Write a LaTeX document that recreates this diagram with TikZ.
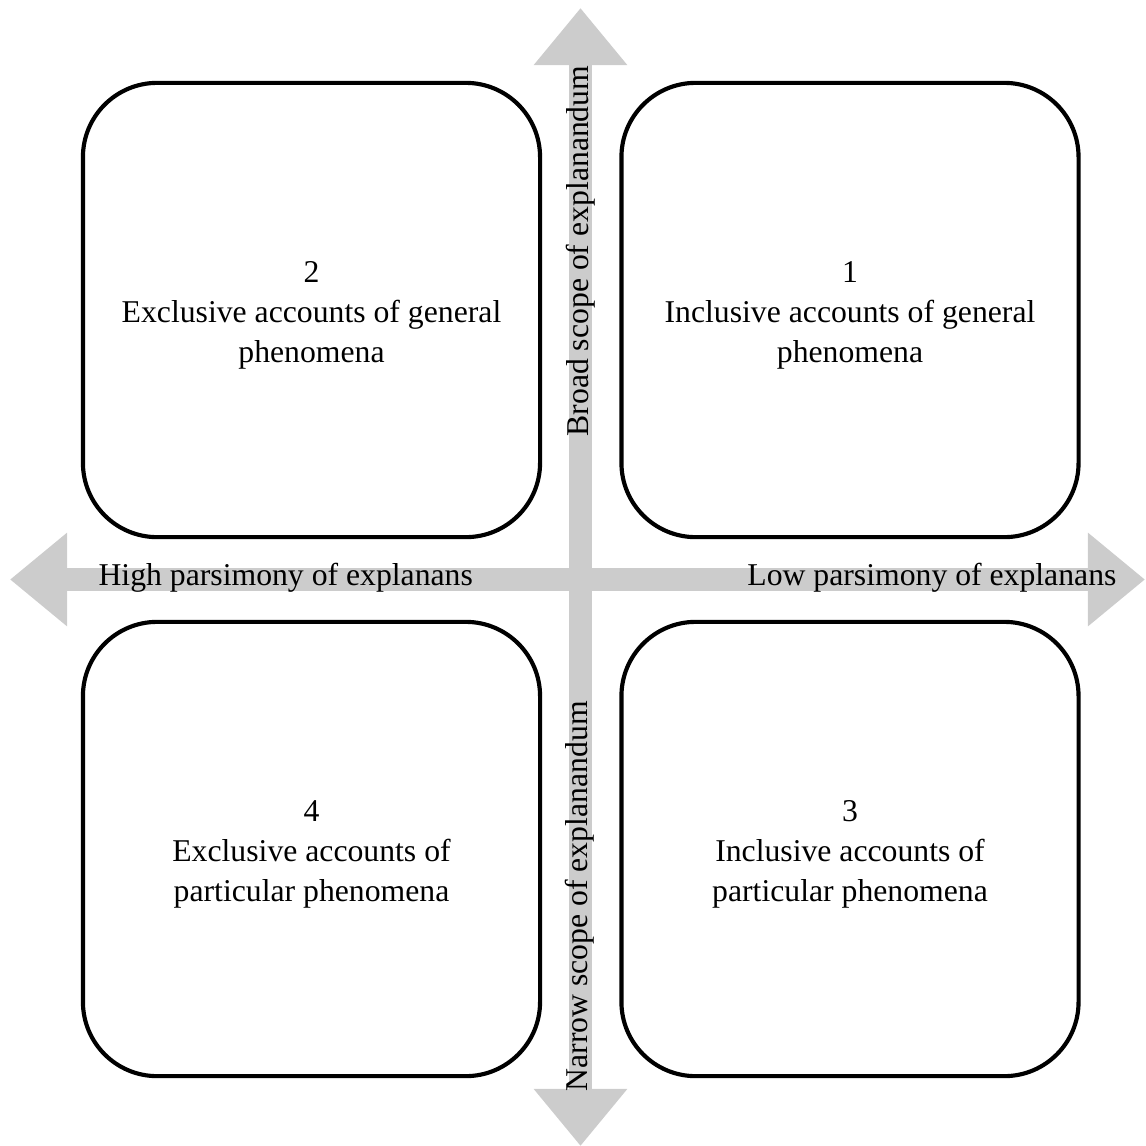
\documentclass[tikz,border=0pt]{standalone}
\usepackage{fontspec}
\setmainfont{Liberation Serif}
\usetikzlibrary{arrows.meta}
\definecolor{axisgrey}{RGB}{204,204,204}

\begin{document}
\begin{tikzpicture}[x=0.35pt, y=-0.35pt,
    font=\fontsize{11.1}{14}\selectfont,
    quad/.style={rectangle, draw=black, line width=1.45pt, rounded corners=26pt,
                 minimum width=160pt, minimum height=159pt, inner sep=0pt},
    quadtext/.style={align=center, inner sep=0pt},
    axis/.style={axisgrey, line width=8pt,
                 {Triangle[length=20pt,width=31.5pt]}-{Triangle[length=20pt,width=31.5pt]}},
    axlabel/.style={inner sep=0pt}]
\useasboundingbox (0,0) rectangle (1146,1146);
% the two grey axes
\coordinate (w) at (10,579.5);
\coordinate (e) at (1145,579.5);
\coordinate (n) at (580.5,8);
\coordinate (s) at (580.5,1146);
\draw[axis] (w) -- (e);
\draw[axis] (n) -- (s);
% axis labels sitting on the shafts
\node[axlabel, anchor=base west] (hp) at (98,585) {High parsimony of explanans};
\node[axlabel, anchor=base east] (lp) at (1117,585) {Low parsimony of explanans};
\node[axlabel, anchor=base west, rotate=90] (bs) at (588,437) {Broad scope of explanandum};
\node[axlabel, anchor=base west, rotate=90] (ns) at (587,1092) {Narrow scope of explanandum};
% the four quadrants
\node[quad] (q2) at (311.5,310) {};
\node[quad] (q1) at (850,310) {};
\node[quad] (q4) at (311.5,849) {};
\node[quad] (q3) at (850,849) {};
% quadrant texts, a little below the box centres
\node[quadtext, yshift=-1.8pt] (t2) at (q2.center) {2\\Exclusive accounts of general\\phenomena};
\node[quadtext, yshift=-1.8pt] (t1) at (q1.center) {1\\Inclusive accounts of general\\phenomena};
\node[quadtext, yshift=-1.8pt] (t4) at (q4.center) {4\\Exclusive accounts of\\particular phenomena};
\node[quadtext, yshift=-1.8pt] (t3) at (q3.center) {3\\Inclusive accounts of\\particular phenomena};
\end{tikzpicture}
\end{document}
